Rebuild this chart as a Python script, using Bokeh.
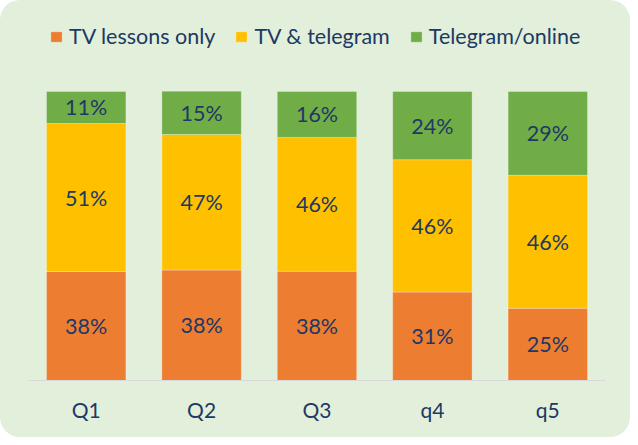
from bokeh.plotting import figure
from bokeh.models import ColumnDataSource, Legend, LegendItem, LabelSet
from bokeh.core.properties import value
from bokeh.embed import file_html
from bokeh.resources import INLINE

# ---- data ----
quarters = ["Q1", "Q2", "Q3", "q4", "q5"]
tv_only = [37.7, 38.2, 37.8, 30.6, 25.0]
tv_telegram = [51.2, 46.9, 46.3, 45.8, 46.0]
telegram_online = [11.1, 15.0, 15.9, 23.6, 29.0]
series_names = ["TV lessons only", "TV & telegram", "Telegram/online"]
series_keys = ["tv_only", "tv_telegram", "telegram_online"]
colors = ["#ED7D31", "#FFC000", "#70AD47"]

TEXT = "#203864"
FONT = "Lato"

src = ColumnDataSource(dict(q=quarters, tv_only=tv_only,
                            tv_telegram=tv_telegram,
                            telegram_online=telegram_online))

# frame spans from legend area down to the axis; 100% sits at the bar tops
p = figure(x_range=quarters, y_range=(0, 128.0), width=630, height=437,
           output_backend="svg", toolbar_location=None,
           y_axis_location=None,
           min_border_left=28, min_border_right=25,
           min_border_top=10, min_border_bottom=57)
p.border_fill_color = None
p.background_fill_color = None
p.outline_line_color = None
p.styles = {"background-color": "#E2EFDA", "border-radius": "20px"}
p.xgrid.grid_line_color = None
p.ygrid.grid_line_color = None

renderers = p.vbar_stack(series_keys, x="q", width=0.688, source=src,
                         color=colors, line_color="white", line_alpha=0.35,
                         line_width=0.8)

# segment labels
stacked = list(zip(tv_only, tv_telegram, telegram_online))
for i, key in enumerate(series_keys):
    lows = [sum(vals[:i]) for vals in stacked]
    vals = src.data[key]
    mids = [lo + v / 2 for lo, v in zip(lows, vals)]
    lab_src = ColumnDataSource(dict(q=quarters, y=mids,
                                    t=[f"{v:.0f}%" for v in vals]))
    p.add_layout(LabelSet(x="q", y="y", text="t", source=lab_src,
                          text_align="center", text_baseline="middle",
                          text_font=value(FONT), text_font_size="21.5px",
                          text_color=TEXT))

ax = p.xaxis[0]
ax.axis_line_color = "#D9D9D9"
ax.axis_line_width = 1
ax.major_tick_line_color = None
ax.minor_tick_line_color = None
ax.major_tick_out = 0
ax.major_label_standoff = 16
ax.major_label_text_font = FONT
ax.major_label_text_font_size = "21px"
ax.major_label_text_color = TEXT

legend = Legend(items=[LegendItem(label=n, renderers=[r])
                       for n, r in zip(series_names, renderers)],
                orientation="horizontal", location=(21, 331),
                border_line_color=None, background_fill_alpha=0,
                padding=0, margin=0, spacing=19, label_standoff=6,
                glyph_width=14, glyph_height=13, label_height=20,
                label_text_font=FONT, label_text_font_size="21.5px",
                label_text_color=TEXT)
p.add_layout(legend, "center")

open("out.html", "w").write(file_html(p, INLINE))
